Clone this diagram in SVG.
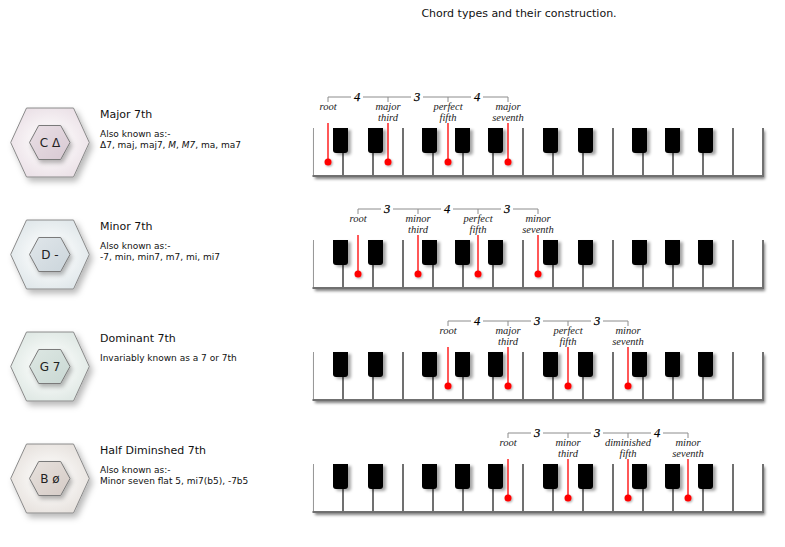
<svg xmlns="http://www.w3.org/2000/svg" xmlns:xlink="http://www.w3.org/1999/xlink" width="785" height="547" viewBox="0 0 785 547">
<style>
 .t{font-family:"DejaVu Sans",Verdana,sans-serif;fill:#111}
 .h{font-size:11px}
 .s{font-size:9px}
 .hx{font-family:"DejaVu Sans",Verdana,sans-serif;font-size:12px;text-anchor:middle;fill:#222}
 .lb{font-family:"Liberation Serif","Times New Roman",serif;font-style:italic;font-size:10.5px;text-anchor:middle;fill:#222}
 .n{font-family:"Liberation Serif","Times New Roman",serif;font-style:italic;font-size:12.5px;text-anchor:middle;fill:#000;stroke:#000;stroke-width:0.25}
 .br{stroke:#8c8c8c;stroke-width:1;fill:none}
 .rl{stroke:#f00;stroke-width:1.3}
 .rd{fill:#f00;filter:url(#dsh)}
 .ho{stroke:#8a8a8a;stroke-width:1;filter:url(#hsh)}
 .hi{stroke:#7a7a7a;stroke-width:1;filter:url(#hsh2)}
 .dv{stroke:#707070;stroke-width:2;fill:none}
 .bk{fill:#000;filter:url(#bsh)}
</style>
<defs>
 <filter id="ksh" x="-5%" y="-10%" width="115%" height="140%"><feDropShadow dx="2" dy="3" stdDeviation="1.5" flood-color="#000" flood-opacity="0.5"/></filter>
 <filter id="bsh" x="-40%" y="-20%" width="200%" height="160%"><feDropShadow dx="3" dy="2" stdDeviation="1.8" flood-color="#000" flood-opacity="0.35"/></filter>
 <filter id="dsh" x="-100%" y="-100%" width="300%" height="300%"><feDropShadow dx="1" dy="1" stdDeviation="1" flood-color="#000" flood-opacity="0.35"/></filter>
 <filter id="hsh" x="-20%" y="-20%" width="150%" height="150%"><feDropShadow dx="3" dy="4" stdDeviation="3" flood-color="#000" flood-opacity="0.28"/></filter>
 <filter id="hsh2" x="-30%" y="-30%" width="170%" height="170%"><feDropShadow dx="2" dy="3" stdDeviation="2" flood-color="#000" flood-opacity="0.28"/></filter>
 <radialGradient id="o0" cx="50%" cy="50%" r="55%"><stop offset="0.45" stop-color="#f8f4f6"/><stop offset="1" stop-color="#ebe1e7"/></radialGradient>
 <radialGradient id="o1" cx="50%" cy="50%" r="55%"><stop offset="0.45" stop-color="#f4f7f8"/><stop offset="1" stop-color="#e0e7ea"/></radialGradient>
 <radialGradient id="o2" cx="50%" cy="50%" r="55%"><stop offset="0.45" stop-color="#f3f7f5"/><stop offset="1" stop-color="#dfe8e4"/></radialGradient>
 <radialGradient id="o3" cx="50%" cy="50%" r="55%"><stop offset="0.45" stop-color="#f6f4f2"/><stop offset="1" stop-color="#e7e2de"/></radialGradient>
 <linearGradient id="i0" x1="0" y1="0" x2="1" y2="1"><stop offset="0" stop-color="#e9dfe5"/><stop offset="1" stop-color="#d8c9d3"/></linearGradient>
 <linearGradient id="i1" x1="0" y1="0" x2="1" y2="1"><stop offset="0" stop-color="#e0e6ea"/><stop offset="1" stop-color="#cbd5db"/></linearGradient>
 <linearGradient id="i2" x1="0" y1="0" x2="1" y2="1"><stop offset="0" stop-color="#dde7e3"/><stop offset="1" stop-color="#c9d8d3"/></linearGradient>
 <linearGradient id="i3" x1="0" y1="0" x2="1" y2="1"><stop offset="0" stop-color="#e7e1dd"/><stop offset="1" stop-color="#d5cbc6"/></linearGradient>
 <polygon id="hexo" points="10.7,142.5 26.5,108 73.5,108 89.3,142.5 73.5,177 26.5,177"/>
 <polygon id="hexi" points="29.5,142.5 38.7,125.5 60.7,125.5 70,142.5 60.7,159.5 38.7,159.5"/>
 <path id="bkp" d="M0,0 H15 V22 Q15,25 12,25 H3 Q0,25 0,22 Z"/>
 <g id="kb">
  <rect x="313" y="128" width="450" height="48" fill="#fff" filter="url(#ksh)"/>
  <path d="M313.5,128 V176" stroke="#999" stroke-width="1"/>
  <path class="dv" d="M312.5,176 H764 M763,128 V177"/>
  <path class="dv" d="M403,128V176 M523,128V176 M613,128V176 M733,128V176"/>
  <path class="dv" d="M343,150V176 M373,150V176 M433,150V176 M463,150V176 M493,150V176 M553,150V176 M583,150V176 M643,150V176 M673,150V176 M703,150V176"/>
  <g class="bk">
   <use xlink:href="#bkp" x="333" y="128"/>
   <use xlink:href="#bkp" x="368" y="128"/>
   <use xlink:href="#bkp" x="422" y="128"/>
   <use xlink:href="#bkp" x="455" y="128"/>
   <use xlink:href="#bkp" x="488" y="128"/>
   <use xlink:href="#bkp" x="543" y="128"/>
   <use xlink:href="#bkp" x="578" y="128"/>
   <use xlink:href="#bkp" x="632" y="128"/>
   <use xlink:href="#bkp" x="665" y="128"/>
   <use xlink:href="#bkp" x="698" y="128"/>
  </g>
 </g>
</defs>

<rect width="785" height="547" fill="#fff"/>
<text class="t h" x="519" y="17" text-anchor="middle">Chord types and their construction.</text>

<!-- Row 1: Major 7th -->
<g id="row1">
 <g id="hex1">
  <use xlink:href="#hexo" class="ho" fill="url(#o0)"/>
  <use xlink:href="#hexi" class="hi" fill="url(#i0)"/>
  <text class="hx" x="50" y="147">C Δ</text>
 </g>
 <g id="text1">
  <text class="t h" x="100" y="117.5">Major 7th</text>
  <text class="t s" x="100" y="136.5">Also known as:-</text>
  <text class="t s" x="100" y="147.5">Δ7, maj, maj7, <tspan font-style="italic">M</tspan>, <tspan font-style="italic">M7</tspan>, ma, ma7</text>
 </g>
 <g id="kb1">
  <use xlink:href="#kb"/>
 </g>
 <g id="marks1">
  <path class="br" d="M328,102V97H351 M363,97H411 M423,97H471 M483,97H508V102 M388,97V102 M448,97V102"/>
  <text class="n" x="357" y="101">4</text>
  <text class="n" x="417" y="101">3</text>
  <text class="n" x="477" y="101">4</text>
  <text class="lb" x="328" y="110">root</text>
  <text class="lb" x="388" y="110">major</text><text class="lb" x="388" y="121">third</text>
  <text class="lb" x="448" y="110">perfect</text><text class="lb" x="448" y="121">fifth</text>
  <text class="lb" x="508" y="110">major</text><text class="lb" x="508" y="121">seventh</text>
  <path class="rl" d="M328,123V162 M388,123V162 M448,123V162 M508,123V162"/>
  <circle class="rd" cx="328" cy="162" r="3.5"/>
  <circle class="rd" cx="388" cy="162" r="3.5"/>
  <circle class="rd" cx="448" cy="162" r="3.5"/>
  <circle class="rd" cx="508" cy="162" r="3.5"/>
 </g>
</g>

<!-- Row 2: Minor 7th -->
<g id="row2" transform="translate(0,112)">
 <g id="hex2">
  <use xlink:href="#hexo" class="ho" fill="url(#o1)"/>
  <use xlink:href="#hexi" class="hi" fill="url(#i1)"/>
  <text class="hx" x="50" y="147">D -</text>
 </g>
 <g id="text2">
  <text class="t h" x="100" y="117.5">Minor 7th</text>
  <text class="t s" x="100" y="136.5">Also known as:-</text>
  <text class="t s" x="100" y="147.5">-7, min, min7, m7, mi, mi7</text>
 </g>
 <g id="kb2">
  <use xlink:href="#kb"/>
 </g>
 <g id="marks2">
  <path class="br" d="M358,102V97H381 M393,97H441 M453,97H501 M513,97H538V102 M418,97V102 M478,97V102"/>
  <text class="n" x="387" y="101">3</text>
  <text class="n" x="447" y="101">4</text>
  <text class="n" x="507" y="101">3</text>
  <text class="lb" x="358" y="110">root</text>
  <text class="lb" x="418" y="110">minor</text><text class="lb" x="418" y="121">third</text>
  <text class="lb" x="478" y="110">perfect</text><text class="lb" x="478" y="121">fifth</text>
  <text class="lb" x="538" y="110">minor</text><text class="lb" x="538" y="121">seventh</text>
  <path class="rl" d="M358,123V162 M418,123V162 M478,123V162 M538,123V162"/>
  <circle class="rd" cx="358" cy="162" r="3.5"/>
  <circle class="rd" cx="418" cy="162" r="3.5"/>
  <circle class="rd" cx="478" cy="162" r="3.5"/>
  <circle class="rd" cx="538" cy="162" r="3.5"/>
 </g>
</g>

<!-- Row 3: Dominant 7th -->
<g id="row3" transform="translate(0,224)">
 <g id="hex3">
  <use xlink:href="#hexo" class="ho" fill="url(#o2)"/>
  <use xlink:href="#hexi" class="hi" fill="url(#i2)"/>
  <text class="hx" x="50" y="147">G 7</text>
 </g>
 <g id="text3">
  <text class="t h" x="100" y="117.5">Dominant 7th</text>
  <text class="t s" x="100" y="137">Invariably known as a 7 or 7th</text>
 </g>
 <g id="kb3">
  <use xlink:href="#kb"/>
 </g>
 <g id="marks3">
  <path class="br" d="M448,102V97H471 M483,97H531 M543,97H591 M603,97H628V102 M508,97V102 M568,97V102"/>
  <text class="n" x="477" y="101">4</text>
  <text class="n" x="537" y="101">3</text>
  <text class="n" x="597" y="101">3</text>
  <text class="lb" x="448" y="110">root</text>
  <text class="lb" x="508" y="110">major</text><text class="lb" x="508" y="121">third</text>
  <text class="lb" x="568" y="110">perfect</text><text class="lb" x="568" y="121">fifth</text>
  <text class="lb" x="628" y="110">minor</text><text class="lb" x="628" y="121">seventh</text>
  <path class="rl" d="M448,123V162 M508,123V162 M568,123V162 M628,123V162"/>
  <circle class="rd" cx="448" cy="162" r="3.5"/>
  <circle class="rd" cx="508" cy="162" r="3.5"/>
  <circle class="rd" cx="568" cy="162" r="3.5"/>
  <circle class="rd" cx="628" cy="162" r="3.5"/>
 </g>
</g>

<!-- Row 4: Half Diminished 7th -->
<g id="row4" transform="translate(0,336)">
 <g id="hex4">
  <use xlink:href="#hexo" class="ho" fill="url(#o3)"/>
  <use xlink:href="#hexi" class="hi" fill="url(#i3)"/>
  <text class="hx" x="50" y="147">B ø</text>
 </g>
 <g id="text4">
  <text class="t h" x="100" y="117.5">Half Diminshed 7th</text>
  <text class="t s" x="100" y="137">Also known as:-</text>
  <text class="t s" x="100" y="148">Minor seven flat 5, mi7(b5), -7b5</text>
 </g>
 <g id="kb4">
  <use xlink:href="#kb"/>
 </g>
 <g id="marks4">
  <path class="br" d="M508,102V97H531 M543,97H591 M603,97H651 M663,97H688V102 M568,97V102 M628,97V102"/>
  <text class="n" x="537" y="101">3</text>
  <text class="n" x="597" y="101">3</text>
  <text class="n" x="657" y="101">4</text>
  <text class="lb" x="508" y="110">root</text>
  <text class="lb" x="568" y="110">minor</text><text class="lb" x="568" y="121">third</text>
  <text class="lb" x="628" y="110">diminished</text><text class="lb" x="628" y="121">fifth</text>
  <text class="lb" x="688" y="110">minor</text><text class="lb" x="688" y="121">seventh</text>
  <path class="rl" d="M508,123V162 M568,123V162 M628,123V162 M688,123V162"/>
  <circle class="rd" cx="508" cy="162" r="3.5"/>
  <circle class="rd" cx="568" cy="162" r="3.5"/>
  <circle class="rd" cx="628" cy="162" r="3.5"/>
  <circle class="rd" cx="688" cy="162" r="3.5"/>
 </g>
</g>
</svg>
